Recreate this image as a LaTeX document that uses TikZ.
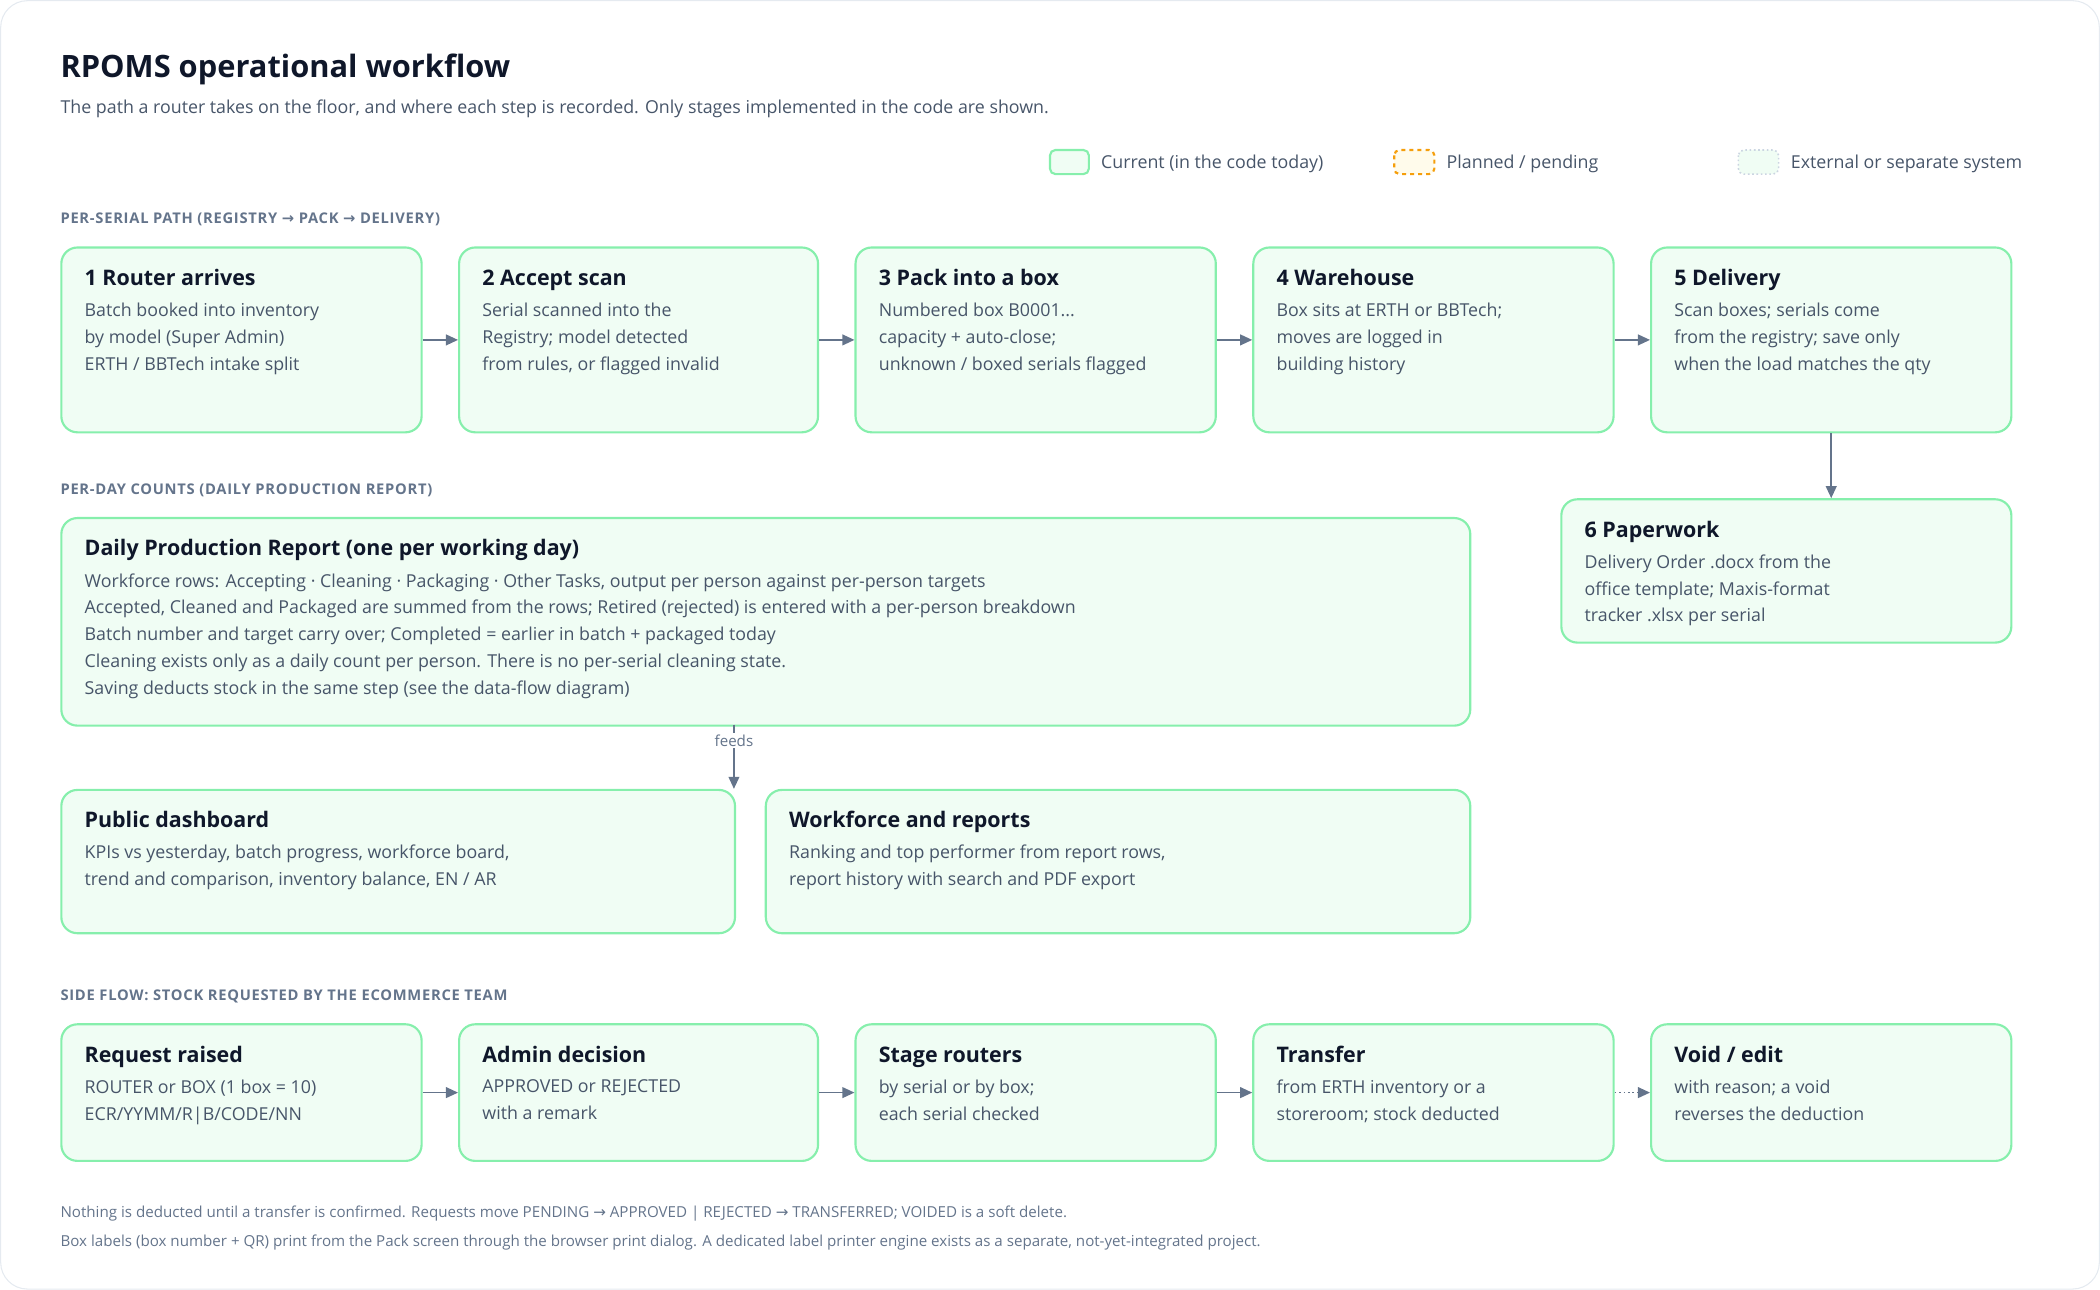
\documentclass[tikz,border=0pt]{standalone}
\usepackage{fontspec}
\setmainfont{Open Sans}
\newfontfamily\symfont{DejaVu Sans}
\usetikzlibrary{arrows.meta,positioning}
\definecolor{boxline}{HTML}{86EFAC}
\definecolor{boxfill}{HTML}{F0FDF4}
\definecolor{inkdark}{HTML}{0F172A}
\definecolor{inkbody}{HTML}{475569}
\definecolor{inkhead}{HTML}{64748B}
\definecolor{arrowgray}{HTML}{64748B}
\definecolor{planline}{HTML}{F59E0B}
\definecolor{planfill}{HTML}{FFFBEB}
\definecolor{extline}{HTML}{CBD5E1}
\newcommand{\rarr}{{\symfont →}}
\tikzset{
  stage/.style={draw=boxline, fill=boxfill, line width=1.6pt, rounded corners=12pt, anchor=north west, inner sep=0pt},
  stagetitle/.style={anchor=base west, inner sep=0pt, text=inkdark, font=\fontsize{16}{20}\selectfont\bfseries},
  stagebody/.style={anchor=north west, inner sep=0pt, text=inkbody, align=left, font=\fontsize{13.3}{20}\selectfont},
  sectionhead/.style={anchor=base west, inner sep=0pt, text=inkhead, font=\fontsize{11}{14}\selectfont\bfseries\addfontfeatures{LetterSpace=5}},
  flow/.style={draw=arrowgray, line width=1.3pt, -{Triangle[length=9pt,width=8pt]}},
  note/.style={anchor=base west, inner sep=0pt, text=inkhead, font=\fontsize{11.3}{14}\selectfont},
}
% box: name, x, y, width, height, title, body
\newcommand{\stagebox}[7]{%
  \node[stage, minimum width=#4pt, minimum height=#5pt] (#1) at (#2,#3) {};
  \node[stagetitle] (#1-t) at (#2+18,#3+29) {#6};
  \node[stagebody] (#1-b) at (#2+18,#3+42) {#7};
}
\begin{document}
\begin{tikzpicture}[x=1pt,y=1pt,yscale=-1]
  \useasboundingbox (0,0) rectangle (1568,963);
  \draw[extline!50, line width=0.8pt, rounded corners=20pt] (0.5,0.5) rectangle (1567.5,962.5);

  % Heading
  \node[anchor=base west, inner sep=0pt, text=inkdark, font=\fontsize{23}{28}\selectfont\bfseries] (title) at (45,58) {RPOMS operational workflow};
  \node[anchor=base west, inner sep=0pt, text=inkbody, font=\fontsize{13.3}{16}\selectfont] (subtitle) at (45,85) {The path a router takes on the floor, and where each step is recorded. Only stages implemented in the code are shown.};

  % Legend
  \draw[boxline, fill=boxfill, line width=1.6pt, rounded corners=4pt] (784,112) rectangle (813,130);
  \node[note, text=inkbody, font=\fontsize{13.3}{16}\selectfont] (leg1) at (822,126) {Current (in the code today)};
  \draw[planline, fill=planfill, line width=1.6pt, dashed, rounded corners=4pt] (1041,112) rectangle (1071,130);
  \node[note, text=inkbody, font=\fontsize{13.3}{16}\selectfont] (leg2) at (1080,126) {Planned / pending};
  \draw[extline, fill=boxfill, line width=1.2pt, dotted, rounded corners=4pt] (1298,112) rectangle (1328,130);
  \node[note, text=inkbody, font=\fontsize{13.3}{16}\selectfont] (leg3) at (1337,126) {External or separate system};

  % Per-serial path
  \node[sectionhead] (h1) at (45,167) {PER-SERIAL PATH (REGISTRY \rarr{} PACK \rarr{} DELIVERY)};
  \stagebox{arrive}{45}{184}{269}{138}{1 Router arrives}{Batch booked into inventory\\by model (Super Admin)\\ERTH / BBTech intake split}
  \stagebox{accept}{342}{184}{268}{138}{2 Accept scan}{Serial scanned into the\\Registry; model detected\\from rules, or flagged invalid}
  \stagebox{pack}{638}{184}{269}{138}{3 Pack into a box}{Numbered box B0001...\\capacity + auto-close;\\unknown / boxed serials flagged}
  \stagebox{store}{935}{184}{269}{138}{4 Warehouse}{Box sits at ERTH or BBTech;\\moves are logged in\\building history}
  \stagebox{deliver}{1232}{184}{269}{138}{5 Delivery}{Scan boxes; serials come\\from the registry; save only\\when the load matches the qty}
  \stagebox{paper}{1165}{372}{336}{107}{6 Paperwork}{Delivery Order .docx from the\\office template; Maxis-format\\tracker .xlsx per serial}

  \draw[flow] (arrive.east) -- (accept.west);
  \draw[flow] (accept.east) -- (pack.west);
  \draw[flow] (pack.east) -- (store.west);
  \draw[flow] (store.east) -- (deliver.west);
  \draw[flow] (deliver.south) -- (deliver.south |- paper.north);

  % Per-day counts
  \node[sectionhead] (h2) at (45,369) {PER-DAY COUNTS (DAILY PRODUCTION REPORT)};
  \stagebox{daily}{45}{386}{1052}{155}{Daily Production Report (one per working day)}{Workforce rows: Accepting · Cleaning · Packaging · Other Tasks, output per person against per-person targets\\Accepted, Cleaned and Packaged are summed from the rows; Retired (rejected) is entered with a per-person breakdown\\Batch number and target carry over; Completed = earlier in batch + packaged today\\Cleaning exists only as a daily count per person. There is no per-serial cleaning state.\\Saving deducts stock in the same step (see the data-flow diagram)}
  \stagebox{dash}{45}{589}{503}{107}{Public dashboard}{KPIs vs yesterday, batch progress, workforce board,\\trend and comparison, inventory balance, EN / AR}
  \stagebox{reports}{571}{589}{526}{107}{Workforce and reports}{Ranking and top performer from report rows,\\report history with search and PDF export}

  \coordinate (feedtop) at (548,541);
  \draw[flow] (feedtop) -- (feedtop |- dash.north) node[pos=0.25, fill=white, inner sep=1pt, text=inkhead, font=\fontsize{11.3}{14}\selectfont] (feedlbl) {feeds};

  % Side flow
  \node[sectionhead] (h3) at (45,747) {SIDE FLOW: STOCK REQUESTED BY THE ECOMMERCE TEAM};
  \stagebox{request}{45}{764}{269}{102}{Request raised}{ROUTER or BOX (1 box = 10)\\ECR/YYMM/R|B/CODE/NN}
  \stagebox{decide}{342}{764}{268}{102}{Admin decision}{APPROVED or REJECTED\\with a remark}
  \stagebox{stage}{638}{764}{269}{102}{Stage routers}{by serial or by box;\\each serial checked}
  \stagebox{transfer}{935}{764}{269}{102}{Transfer}{from ERTH inventory or a\\storeroom; stock deducted}
  \stagebox{void}{1232}{764}{269}{102}{Void / edit}{with reason; a void\\reverses the deduction}

  \draw[flow] (request.east) -- (decide.west);
  \draw[flow] (decide.east) -- (stage.west);
  \draw[flow] (stage.east) -- (transfer.west);
  \draw[flow, dotted] (transfer.east) -- (void.west);

  % Footnotes
  \node[note] (fn1) at (45,909) {Nothing is deducted until a transfer is confirmed. Requests move PENDING \rarr{} APPROVED | REJECTED \rarr{} TRANSFERRED; VOIDED is a soft delete.};
  \node[note] (fn2) at (45,931) {Box labels (box number + QR) print from the Pack screen through the browser print dialog. A dedicated label printer engine exists as a separate, not-yet-integrated project.};
\end{tikzpicture}
\end{document}
